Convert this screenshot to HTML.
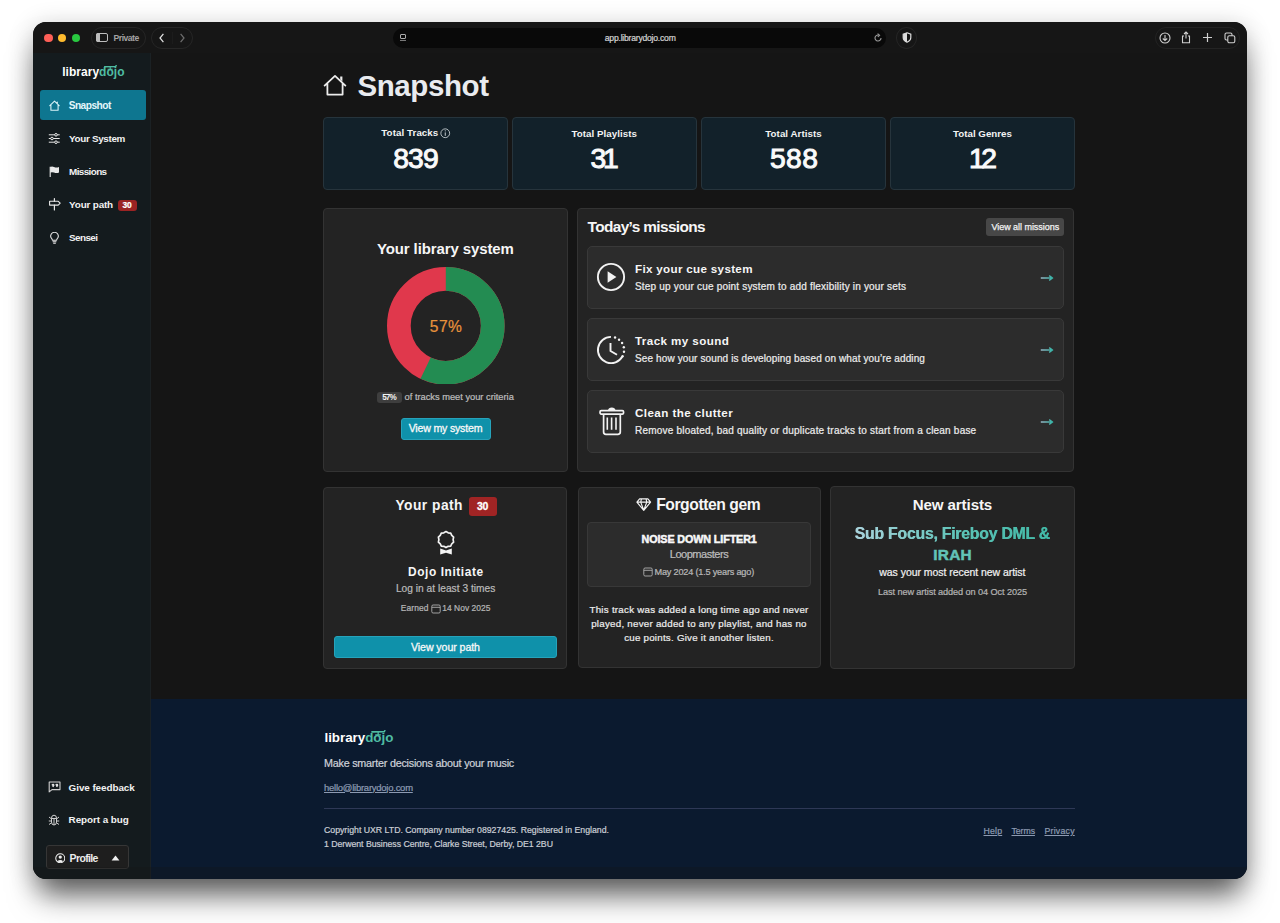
<!DOCTYPE html>
<html><head><meta charset="utf-8">
<style>
*{box-sizing:border-box;margin:0;padding:0}
html,body{width:1280px;height:923px;overflow:hidden;background:#fff;font-family:"Liberation Sans",sans-serif;color:#fff}
.abs{position:absolute}
#win{position:absolute;left:33px;top:22px;width:1214px;height:856.6px;border-radius:13px;background:#151515;overflow:hidden;box-shadow:0 22px 30px -6px rgba(0,0,0,.6),0 4px 26px rgba(0,0,0,.2)}
#pg{position:absolute;left:-33px;top:-22px;width:1280px;height:923px}
.t{position:absolute;white-space:nowrap;line-height:1}
</style></head><body>
<div id="win"><div id="pg">
<div class="abs" style="left:33.00px;top:22.00px;width:1214.00px;height:30.50px;background:#161616"></div>
<div class="abs" style="left:44.30px;top:33.60px;width:8.60px;height:8.60px;border-radius:50%;background:#fe5f57"></div>
<div class="abs" style="left:57.90px;top:33.60px;width:8.60px;height:8.60px;border-radius:50%;background:#febb2e"></div>
<div class="abs" style="left:71.60px;top:33.60px;width:8.60px;height:8.60px;border-radius:50%;background:#29c840"></div>
<div class="abs" style="left:90.50px;top:27.00px;width:55.00px;height:21.70px;border-radius:11px;border:1px solid #262626"></div>
<div class="abs" style="left:96.00px;top:33.20px;width:11.50px;height:9.00px;border:1.2px solid #bdbdbd;border-radius:2px"></div>
<div class="abs" style="left:96.00px;top:33.20px;width:4.20px;height:9.00px;background:#bdbdbd;border-radius:2px 0 0 2px"></div>
<div class="t" style="left:113.60px;top:34.04px;font-size:8.58px;letter-spacing:-0.500px;font-weight:700;color:#a3a3a3;">Private</div>
<div class="abs" style="left:150.50px;top:27.00px;width:42.50px;height:21.70px;border-radius:11px;border:1px solid #262626"></div>
<div class="abs" style="left:172.20px;top:32.00px;width:1.00px;height:12.00px;background:#1c1c1c"></div>
<svg class="abs" style="left:156.50px;top:33.00px;" width="10" height="10" viewBox="0 0 10 10"><path d="M6.4 .9 L3 5 L6.4 9.1" stroke="#e0e0e0" stroke-width="1.25" fill="none"/></svg>
<svg class="abs" style="left:177.00px;top:33.00px;" width="10" height="10" viewBox="0 0 10 10"><path d="M3.6 .9 L7 5 L3.6 9.1" stroke="#6d6d6d" stroke-width="1.25" fill="none"/></svg>
<div class="abs" style="left:392.50px;top:28.00px;width:493.50px;height:20.00px;border-radius:10px;background:#090909"></div>
<div class="abs" style="left:399.50px;top:34.00px;width:6.50px;height:4.50px;border:1px solid #aaa;border-radius:1px"></div>
<div class="abs" style="left:399.50px;top:40.00px;width:6.50px;height:1.00px;background:#777"></div>
<div class="t" style="left:604.80px;top:33.62px;font-size:8.60px;letter-spacing:-0.220px;font-weight:400;color:#d2d2d2;-webkit-text-stroke:0.22px #d2d2d2;">app.librarydojo.com</div>
<svg class="abs" style="left:873.00px;top:32.50px;" width="10" height="10" viewBox="0 0 10 10"><path d="M8 5 A3 3 0 1 1 5.6 2.1" stroke="#9a9a9a" stroke-width="1.1" fill="none"/><path d="M4.6 0.6 L6.6 2.2 L4.8 3.9" stroke="#9a9a9a" stroke-width="1.1" fill="none"/></svg>
<div class="abs" style="left:896.00px;top:27.00px;width:21.00px;height:21.50px;border-radius:50%;border:1px solid #252525"></div>
<svg class="abs" style="left:901.50px;top:32.00px;" width="10" height="11" viewBox="0 0 10 11"><path d="M5 .8 L8.8 2.2 L8.8 5.5 Q8.8 8.6 5 10.2 Q1.2 8.6 1.2 5.5 L1.2 2.2 Z" stroke="#ddd" stroke-width="1.2" fill="none"/><path d="M5 .8 L5 10.2 Q1.2 8.6 1.2 5.5 L1.2 2.2 Z" fill="#ddd"/></svg>
<div class="abs" style="left:1155.00px;top:27.00px;width:85.00px;height:21.70px;border-radius:11px;border:1px solid #232323"></div>
<svg class="abs" style="left:1159.00px;top:31.50px;" width="12" height="12" viewBox="0 0 12 12"><circle cx="6" cy="6" r="5" stroke="#cfcfcf" stroke-width="1.1" fill="none"/><path d="M6 3 V8.5 M3.8 6.5 L6 8.6 L8.2 6.5" stroke="#cfcfcf" stroke-width="1.1" fill="none"/></svg>
<svg class="abs" style="left:1180.00px;top:30.50px;" width="12" height="13" viewBox="0 0 12 13"><path d="M4 5 H2.5 V11.8 H9.5 V5 H8 M6 1 V7.5 M4 3 L6 1 L8 3" stroke="#cfcfcf" stroke-width="1.1" fill="none"/></svg>
<svg class="abs" style="left:1202.00px;top:32.00px;" width="11" height="11" viewBox="0 0 11 11"><path d="M5.5 1 V10 M1 5.5 H10" stroke="#cfcfcf" stroke-width="1.2" fill="none"/></svg>
<svg class="abs" style="left:1224.00px;top:31.50px;" width="12" height="12" viewBox="0 0 12 12"><rect x="1" y="1" width="7" height="7" rx="1.5" stroke="#cfcfcf" stroke-width="1.1" fill="none"/><rect x="3.8" y="3.8" width="7" height="7" rx="1.5" stroke="#cfcfcf" stroke-width="1.1" fill="#161616"/></svg>
<div class="abs" style="left:33.00px;top:52.50px;width:118.00px;height:826.50px;background:#141b1e;border-right:1px solid #1b2124"></div>
<div class="t" style="left:62.20px;top:66.34px;font-size:12.00px;letter-spacing:0.030px;font-weight:700;color:#fff">library<span style="color:#4fbda3">dojo</span></div>
<svg class="abs" style="left:102.12px;top:65.36px" width="16.00" height="6.00" viewBox="0 0 16 6"><path d="M2.6 1.7 L13.6 1.5 L14.2 .6" stroke="#4fbda3" stroke-width="1.4" fill="none" stroke-linecap="round"/><path d="M5.6 4.3 H10.6 M8.2 1.6 V4.4" stroke="#4fbda3" stroke-width="1.1" fill="none"/></svg>
<div class="abs" style="left:40.20px;top:90.00px;width:106.30px;height:30.00px;background:#0e7690;border-radius:3px"></div>
<div class="t" style="left:68.70px;top:101.19px;font-size:10.17px;letter-spacing:-0.522px;font-weight:700;color:#e3f6fa;">Snapshot</div>
<div class="t" style="left:69.10px;top:133.53px;font-size:9.88px;letter-spacing:-0.339px;font-weight:700;color:#f2f2f2;">Your System</div>
<div class="t" style="left:69.10px;top:166.73px;font-size:9.88px;letter-spacing:-0.613px;font-weight:700;color:#f2f2f2;">Missions</div>
<div class="t" style="left:69.10px;top:199.53px;font-size:9.88px;letter-spacing:-0.161px;font-weight:700;color:#f2f2f2;">Your path</div>
<div class="abs" style="left:117.50px;top:199.50px;width:19.50px;height:11.50px;background:#9b2323;border-radius:3px"></div>
<div class="t" style="left:122.61px;top:200.86px;font-size:8.43px;letter-spacing:-0.200px;font-weight:700;color:#fff;-webkit-text-stroke:.2px #fff;">30</div>
<div class="t" style="left:69.10px;top:232.53px;font-size:9.88px;letter-spacing:-0.593px;font-weight:700;color:#f2f2f2;">Sensei</div>
<svg class="abs" style="left:48.50px;top:99.50px;" width="11" height="11" viewBox="0 0 11 11"><path d="M.8 5.6 L5.5 1.2 L10.2 5.6 M1.9 4.6 V10.2 H9.1 V4.6 M8.3 2 V3.6" stroke="#d9f3f8" stroke-width="1.1" fill="none" stroke-linejoin="round" stroke-linecap="round"/></svg>
<svg class="abs" style="left:48.00px;top:132.80px;" width="12.5" height="11" viewBox="0 0 12.5 11"><path d="M.8 1.8 H11.7 M.8 5.5 H11.7 M.8 9.2 H11.7" stroke="#e8e8e8" stroke-width="1" fill="none"/><circle cx="8" cy="1.8" r="1.3" fill="#141b1e" stroke="#e8e8e8" stroke-width="1"/><circle cx="4" cy="5.5" r="1.3" fill="#141b1e" stroke="#e8e8e8" stroke-width="1"/><circle cx="8" cy="9.2" r="1.3" fill="#141b1e" stroke="#e8e8e8" stroke-width="1"/></svg>
<svg class="abs" style="left:49.00px;top:165.50px;" width="11" height="11.5" viewBox="0 0 11 11.5"><path d="M1.2 .8 V11.2" stroke="#e8e8e8" stroke-width="1.1"/><path d="M1.2 1 Q3 .2 5 1 Q7.5 2 10 1 V6.6 Q7.5 7.6 5 6.6 Q3 5.8 1.2 6.6 Z" fill="#e8e8e8"/></svg>
<svg class="abs" style="left:48.00px;top:198.00px;" width="13" height="12.5" viewBox="0 0 13 12.5"><path d="M6.4 .6 V3.2 M6.4 7.2 V12" stroke="#e8e8e8" stroke-width="1.2" stroke-linecap="round"/><path d="M1.6 3.3 H10.2 L12.2 5.2 L10.2 7.1 H1.6 Z" stroke="#e8e8e8" stroke-width="1.1" fill="none" stroke-linejoin="round"/></svg>
<svg class="abs" style="left:49.00px;top:231.50px;" width="11" height="12" viewBox="0 0 11 12"><path d="M3.4 8.2 Q3.2 6.8 2 5.6 A3.8 3.8 0 1 1 9 5.6 Q7.8 6.8 7.6 8.2 Z" stroke="#e8e8e8" stroke-width="1.1" fill="none" stroke-linejoin="round"/><path d="M3.6 9.8 H7.4 M4.2 11.2 H6.8" stroke="#e8e8e8" stroke-width="1.1"/></svg>
<div class="t" style="left:68.60px;top:782.53px;font-size:9.88px;letter-spacing:-0.070px;font-weight:700;color:#f2f2f2;">Give feedback</div>
<div class="t" style="left:68.60px;top:815.23px;font-size:9.88px;letter-spacing:-0.068px;font-weight:700;color:#f2f2f2;">Report a bug</div>
<svg class="abs" style="left:47.50px;top:780.80px;" width="13" height="12" viewBox="0 0 13 12"><path d="M1.2 1 H12 V8.6 H4 L1.2 10.9 Z" stroke="#cfcfcf" stroke-width="1.1" fill="none" stroke-linejoin="round"/><path d="M4.1 4.2 a.9 .9 0 1 1 1.5 .6 L4.9 6 M7.9 4.2 a.9 .9 0 1 1 1.5 .6 L8.7 6" stroke="#e8e8e8" stroke-width="1.1" fill="#e8e8e8"/></svg>
<svg class="abs" style="left:48.30px;top:814.00px;" width="12" height="12" viewBox="0 0 12 12"><path d="M3.5 4.2 Q3.5 1.2 6 1.2 Q8.5 1.2 8.5 4.2 V8 Q8.5 11 6 11 Q3.5 11 3.5 8 Z M3.5 4.5 H8.5 M6 4.5 V11 M1 3 L3.5 5 M11 3 L8.5 5 M.8 7 H3.5 M11.2 7 H8.5 M1 10.5 L3.5 8.8 M11 10.5 L8.5 8.8" stroke="#cfcfcf" stroke-width="1" fill="none"/></svg>
<div class="abs" style="left:46.20px;top:845.30px;width:83.20px;height:24.20px;background:#1e1e1e;border:1px solid #363636;border-radius:3px"></div>
<svg class="abs" style="left:54.60px;top:852.60px;" width="10.5" height="10.5" viewBox="0 0 10.5 10.5"><circle cx="5.25" cy="5.25" r="4.5" stroke="#eee" stroke-width="1.05" fill="none"/><circle cx="5.25" cy="4.1" r="1.65" fill="#eee"/><path d="M2.3 8.3 Q5.25 5.5 8.2 8.3 Q5.25 10.4 2.3 8.3 Z" fill="#eee"/></svg>
<div class="t" style="left:69.60px;top:853.54px;font-size:10.47px;letter-spacing:-0.628px;font-weight:700;color:#ececec;">Profile</div>
<svg class="abs" style="left:111.00px;top:855.00px;" width="9" height="6" viewBox="0 0 9 6"><path d="M.6 5.4 L4.5 .6 L8.4 5.4 Z" fill="#f0f0f0"/></svg>
<svg class="abs" style="left:323.00px;top:74.00px;" width="24" height="22" viewBox="0 0 24 22"><path d="M1.6 11.6 L12 1.9 L22.4 11.6 M4.4 9.2 V20.6 H19.6 V9.2" stroke="#ececec" stroke-width="1.8" fill="none" stroke-linejoin="round" stroke-linecap="round"/><path d="M17.2 2.4 H19.4 V7.6 L17.2 5.6 Z" fill="#ececec"/></svg>
<div class="t" style="left:357.50px;top:70.52px;font-size:29.51px;letter-spacing:-0.418px;font-weight:700;color:#e9ebef;">Snapshot</div>
<div class="abs" style="left:323.00px;top:117.00px;width:185.00px;height:72.50px;background:#12212a;border:1px solid #26343c;border-radius:4px"></div>
<div class="t" style="left:381.30px;top:127.56px;font-size:9.74px;letter-spacing:0.081px;font-weight:700;color:#f4f4f4;">Total Tracks</div>
<svg class="abs" style="left:440.20px;top:128.20px;" width="10.5" height="10.5" viewBox="0 0 11 11"><circle cx="5.5" cy="5.5" r="4.6" stroke="#cfd6da" stroke-width=".9" fill="none"/><path d="M5.5 4.6 V8.2" stroke="#cfd6da" stroke-width="1"/><circle cx="5.5" cy="3" r=".6" fill="#cfd6da"/></svg>
<div class="t" style="left:393.20px;top:143.69px;font-size:28.25px;letter-spacing:-0.859px;font-weight:400;color:#fafafa;-webkit-text-stroke:1px #fafafa;">839</div>
<div class="abs" style="left:512.00px;top:117.00px;width:184.50px;height:72.50px;background:#12212a;border:1px solid #26343c;border-radius:4px"></div>
<div class="t" style="left:571.45px;top:129.06px;font-size:9.74px;letter-spacing:0.060px;font-weight:700;color:#f4f4f4;">Total Playlists</div>
<div class="t" style="left:590.60px;top:143.69px;font-size:28.25px;letter-spacing:-3.312px;font-weight:400;color:#fafafa;-webkit-text-stroke:1px #fafafa;">31</div>
<div class="abs" style="left:701.00px;top:117.00px;width:185.00px;height:72.50px;background:#12212a;border:1px solid #26343c;border-radius:4px"></div>
<div class="t" style="left:765.30px;top:129.06px;font-size:9.74px;letter-spacing:0.056px;font-weight:700;color:#f4f4f4;">Total Artists</div>
<div class="t" style="left:769.95px;top:143.69px;font-size:28.25px;letter-spacing:0.391px;font-weight:400;color:#fafafa;-webkit-text-stroke:1px #fafafa;">588</div>
<div class="abs" style="left:890.00px;top:117.00px;width:185.00px;height:72.50px;background:#12212a;border:1px solid #26343c;border-radius:4px"></div>
<div class="t" style="left:953.00px;top:129.06px;font-size:9.74px;letter-spacing:0.017px;font-weight:700;color:#f4f4f4;">Total Genres</div>
<div class="t" style="left:968.95px;top:143.69px;font-size:28.25px;letter-spacing:-3.512px;font-weight:400;color:#fafafa;-webkit-text-stroke:1px #fafafa;">12</div>
<div class="abs" style="left:323.00px;top:208.00px;width:244.50px;height:264.00px;background:#232323;border:1px solid #333;border-radius:4px"></div>
<div class="t" style="left:376.90px;top:242.13px;font-size:14.97px;letter-spacing:-0.093px;font-weight:700;color:#f6f6f6;">Your library system</div>
<svg class="abs" style="left:387.30px;top:266.80px" width="117.60" height="117.60" viewBox="-58.80 -58.80 117.60 117.60"><circle r="46.950" fill="none" stroke="#e0384c" stroke-width="23.70"/><circle r="46.950" fill="none" stroke="#238c52" stroke-width="23.70" stroke-dasharray="168.147 294.996" transform="rotate(-90)"/></svg>
<div class="t" style="left:429.85px;top:319.39px;font-size:15.60px;letter-spacing:0.442px;font-weight:400;color:#e8923c;-webkit-text-stroke:0.22px #e8923c;">57%</div>
<div class="abs" style="left:377.30px;top:391.80px;width:24.30px;height:11.70px;background:#3e3e3e;border-radius:3px"></div>
<div class="t" style="left:382.15px;top:393.51px;font-size:8.14px;letter-spacing:-0.894px;font-weight:700;color:#f4f4f4;">57%</div>
<div class="t" style="left:404.60px;top:393.33px;font-size:9.30px;letter-spacing:-0.011px;font-weight:400;color:#bdbdbd;-webkit-text-stroke:0.22px #bdbdbd;">of tracks meet your criteria</div>
<div class="abs" style="left:401.00px;top:417.80px;width:89.50px;height:22.00px;background:#0f91aa;border:1px solid #26a3bb;border-radius:3px"></div>
<div class="t" style="left:408.70px;top:423.12px;font-size:10.61px;letter-spacing:-0.204px;font-weight:400;color:#f8f8f8;-webkit-text-stroke:.3px #f8f8f8;">View my system</div>
<div class="abs" style="left:577.30px;top:208.30px;width:497.20px;height:263.70px;background:#232323;border:1px solid #333;border-radius:4px"></div>
<div class="t" style="left:587.50px;top:218.86px;font-size:15.41px;letter-spacing:-0.631px;font-weight:700;color:#f6f6f6;">Today’s missions</div>
<div class="abs" style="left:986.20px;top:218.40px;width:77.80px;height:18.00px;background:#474747;border-radius:3px"></div>
<div class="t" style="left:991.40px;top:222.57px;font-size:9.01px;letter-spacing:-0.034px;font-weight:400;color:#f2f2f2;-webkit-text-stroke:.25px #f2f2f2;">View all missions</div>
<div class="abs" style="left:587.30px;top:246.00px;width:477.00px;height:63.00px;background:#2c2c2c;border:1px solid #393939;border-radius:5px"></div>
<div class="t" style="left:635.00px;top:263.16px;font-size:11.63px;letter-spacing:0.317px;font-weight:700;color:#f6f6f6;">Fix your cue system</div>
<div class="t" style="left:635.00px;top:281.61px;font-size:10.03px;letter-spacing:0.184px;font-weight:400;color:#ececec;-webkit-text-stroke:0.22px #ececec;">Step up your cue point system to add flexibility in your sets</div>
<svg class="abs" style="left:1040.00px;top:273.50px;" width="14" height="8" viewBox="0 0 14 8"><defs><linearGradient id="ag0" x1="0" x2="1"><stop offset="0" stop-color="#9ab8c8"/><stop offset="1" stop-color="#34b3a5"/></linearGradient></defs><path d="M.8 4 H12 M9.2 1.6 L12.6 4 L9.2 6.4" stroke="url(#ag0)" stroke-width="1.4" fill="none" stroke-linejoin="round"/></svg>
<div class="abs" style="left:587.30px;top:318.00px;width:477.00px;height:63.00px;background:#2c2c2c;border:1px solid #393939;border-radius:5px"></div>
<div class="t" style="left:635.00px;top:335.16px;font-size:11.63px;letter-spacing:0.405px;font-weight:700;color:#f6f6f6;">Track my sound</div>
<div class="t" style="left:635.00px;top:353.61px;font-size:10.03px;letter-spacing:0.110px;font-weight:400;color:#ececec;-webkit-text-stroke:0.22px #ececec;">See how your sound is developing based on what you’re adding</div>
<svg class="abs" style="left:1040.00px;top:345.50px;" width="14" height="8" viewBox="0 0 14 8"><defs><linearGradient id="ag1" x1="0" x2="1"><stop offset="0" stop-color="#9ab8c8"/><stop offset="1" stop-color="#34b3a5"/></linearGradient></defs><path d="M.8 4 H12 M9.2 1.6 L12.6 4 L9.2 6.4" stroke="url(#ag1)" stroke-width="1.4" fill="none" stroke-linejoin="round"/></svg>
<div class="abs" style="left:587.30px;top:390.00px;width:477.00px;height:63.00px;background:#2c2c2c;border:1px solid #393939;border-radius:5px"></div>
<div class="t" style="left:635.00px;top:407.16px;font-size:11.63px;letter-spacing:0.418px;font-weight:700;color:#f6f6f6;">Clean the clutter</div>
<div class="t" style="left:635.00px;top:425.61px;font-size:10.03px;letter-spacing:0.197px;font-weight:400;color:#ececec;-webkit-text-stroke:0.22px #ececec;">Remove bloated, bad quality or duplicate tracks to start from a clean base</div>
<svg class="abs" style="left:1040.00px;top:417.50px;" width="14" height="8" viewBox="0 0 14 8"><defs><linearGradient id="ag2" x1="0" x2="1"><stop offset="0" stop-color="#9ab8c8"/><stop offset="1" stop-color="#34b3a5"/></linearGradient></defs><path d="M.8 4 H12 M9.2 1.6 L12.6 4 L9.2 6.4" stroke="url(#ag2)" stroke-width="1.4" fill="none" stroke-linejoin="round"/></svg>
<svg class="abs" style="left:596.00px;top:262.00px;" width="30" height="30" viewBox="0 0 30 30"><circle cx="15" cy="15" r="13.1" stroke="#f2f2f2" stroke-width="1.9" fill="none"/><path d="M11.6 9.3 L20.4 15 L11.6 20.7 Z" fill="#f2f2f2"/></svg>
<svg class="abs" style="left:596.00px;top:334.50px;" width="30" height="30" viewBox="0 0 30 30"><path d="M15 1.9 A13.1 13.1 0 1 0 26.4 21.5" stroke="#f2f2f2" stroke-width="1.9" fill="none"/><path d="M14.5 8 V16 L21 19.8" stroke="#f2f2f2" stroke-width="1.9" fill="none" stroke-linejoin="round"/><circle cx="19.05" cy="2.54" r="1.2" fill="#f2f2f2"/><circle cx="23.07" cy="4.68" r="1.2" fill="#f2f2f2"/><circle cx="26.11" cy="8.06" r="1.2" fill="#f2f2f2"/><circle cx="27.81" cy="12.28" r="1.2" fill="#f2f2f2"/><circle cx="27.97" cy="16.82" r="1.2" fill="#f2f2f2"/><circle cx="26.57" cy="21.15" r="1.2" fill="#f2f2f2"/></svg>
<svg class="abs" style="left:598.50px;top:405.50px;" width="26" height="30" viewBox="0 0 26 30"><path d="M2.3 4.6 H23.3 Q24.6 4.6 24.6 6 Q24.6 8.2 23.3 8.2 H2.3 Q1 8.2 1 6 Q1 4.6 2.3 4.6 Z" stroke="#f2f2f2" stroke-width="1.7" fill="none"/><path d="M9 4.4 Q9.5 1.6 12.8 1.6 Q16 1.6 16.5 4.4" fill="#f2f2f2"/><path d="M4.6 8.4 V26 Q4.6 28.3 6.9 28.3 H18.8 Q21.3 28.3 21.3 26 V8.4" stroke="#f2f2f2" stroke-width="1.7" fill="none"/><path d="M8.3 11.5 V23.8 M12.6 11.5 V23.8 M17 11.5 V23.8" stroke="#f2f2f2" stroke-width="1.6"/></svg>
<div class="abs" style="left:323.40px;top:486.50px;width:243.60px;height:182.10px;background:#232323;border:1px solid #333;border-radius:4px"></div>
<div class="t" style="left:395.40px;top:498.61px;font-size:13.81px;letter-spacing:0.474px;font-weight:700;color:#f6f6f6;">Your path</div>
<div class="abs" style="left:468.80px;top:497.40px;width:27.90px;height:18.30px;background:#a02424;border-radius:3px"></div>
<div class="t" style="left:477.03px;top:501.74px;font-size:10.47px;letter-spacing:-0.300px;font-weight:700;color:#fff;-webkit-text-stroke:.3px #fff;">30</div>
<svg class="abs" style="left:435.60px;top:529.70px;" width="20" height="25" viewBox="0 0 20 25"><path d="M10.00 1.60 L12.19 2.85 L14.70 3.13 L15.74 5.43 L17.61 7.13 L17.10 9.60 L17.61 12.07 L15.74 13.77 L14.70 16.07 L12.19 16.35 L10.00 17.60 L7.81 16.35 L5.30 16.07 L4.26 13.77 L2.39 12.07 L2.90 9.60 L2.39 7.13 L4.26 5.43 L5.30 3.13 L7.81 2.85 Z" stroke="#f4f4f4" stroke-width="1.7" fill="none" stroke-linejoin="round"/><path d="M4.2 18.6 L10 20.6 L15.8 18.6 V24.4 L10 22.8 L4.2 24.4 Z" fill="#f4f4f4"/></svg>
<div class="t" style="left:408.05px;top:566.91px;font-size:11.92px;letter-spacing:0.575px;font-weight:700;color:#f6f6f6;">Dojo Initiate</div>
<div class="t" style="left:395.95px;top:584.39px;font-size:10.17px;letter-spacing:0.024px;font-weight:400;color:#bababa;-webkit-text-stroke:0.22px #bababa;">Log in at least 3 times</div>
<div class="t" style="left:400.70px;top:603.76px;font-size:8.43px;letter-spacing:0.142px;font-weight:400;color:#b5b5b5;-webkit-text-stroke:0.22px #b5b5b5;">Earned</div>
<svg class="abs" style="left:430.50px;top:603.60px;" width="10" height="10" viewBox="0 0 10 10"><rect x=".8" y="1" width="8.4" height="8" rx="1.3" stroke="#b0b0b0" stroke-width=".9" fill="none"/><path d="M.8 3.3 H9.2" stroke="#b0b0b0" stroke-width=".9"/></svg>
<div class="t" style="left:442.20px;top:603.76px;font-size:8.43px;letter-spacing:0.059px;font-weight:400;color:#b5b5b5;-webkit-text-stroke:0.22px #b5b5b5;">14 Nov 2025</div>
<div class="abs" style="left:333.60px;top:636.00px;width:223.80px;height:22.30px;background:#0f91aa;border:1px solid #26a3bb;border-radius:3px"></div>
<div class="t" style="left:411.00px;top:642.32px;font-size:10.61px;letter-spacing:-0.077px;font-weight:400;color:#f8f8f8;-webkit-text-stroke:.3px #f8f8f8;">View your path</div>
<div class="abs" style="left:577.60px;top:486.50px;width:243.10px;height:181.60px;background:#232323;border:1px solid #333;border-radius:4px"></div>
<svg class="abs" style="left:636.00px;top:497.80px;" width="15.5" height="13.5" viewBox="0 0 15.5 13.5"><path d="M3.6 .9 H11.9 L14.6 4.1 L7.75 12.4 L.9 4.1 Z M.9 4.1 H14.6 M5.4 1.1 L4.7 4.1 L7.75 12.2 L10.8 4.1 L10.1 1.1" stroke="#f4f4f4" stroke-width="1.15" fill="none" stroke-linejoin="round"/></svg>
<div class="t" style="left:656.20px;top:497.01px;font-size:15.70px;letter-spacing:-0.449px;font-weight:700;color:#f6f6f6;">Forgotten gem</div>
<div class="abs" style="left:587.30px;top:522.30px;width:223.70px;height:65.00px;background:#2c2c2c;border:1px solid #383838;border-radius:4px"></div>
<div class="t" style="left:641.55px;top:534.20px;font-size:10.76px;letter-spacing:-0.107px;font-weight:700;color:#f8f8f8;-webkit-text-stroke:.5px #f8f8f8;">NOISE DOWN LIFTER1</div>
<div class="t" style="left:669.75px;top:548.65px;font-size:11.05px;letter-spacing:-0.496px;font-weight:400;color:#bdbdbd;-webkit-text-stroke:0.22px #bdbdbd;">Loopmasters</div>
<svg class="abs" style="left:643.00px;top:567.00px;" width="10" height="10" viewBox="0 0 10 10"><rect x=".8" y="1" width="8.4" height="8" rx="1.3" stroke="#b0b0b0" stroke-width=".9" fill="none"/><path d="M.8 3.3 H9.2" stroke="#b0b0b0" stroke-width=".9"/></svg>
<div class="t" style="left:654.50px;top:567.55px;font-size:9.16px;letter-spacing:-0.202px;font-weight:400;color:#b8b8b8;-webkit-text-stroke:0.22px #b8b8b8;">May 2024 (1.5 years ago)</div>
<div class="t" style="left:589.50px;top:605.06px;font-size:9.74px;letter-spacing:0.257px;font-weight:400;color:#ececec;-webkit-text-stroke:0.22px #ececec;">This track was added a long time ago and never</div>
<div class="t" style="left:591.20px;top:619.06px;font-size:9.74px;letter-spacing:0.257px;font-weight:400;color:#ececec;-webkit-text-stroke:0.22px #ececec;">played, never added to any playlist, and has no</div>
<div class="t" style="left:624.20px;top:632.56px;font-size:9.74px;letter-spacing:0.242px;font-weight:400;color:#ececec;-webkit-text-stroke:0.22px #ececec;">cue points. Give it another listen.</div>
<div class="abs" style="left:830.40px;top:486.00px;width:244.20px;height:182.50px;background:#232323;border:1px solid #333;border-radius:4px"></div>
<div class="t" style="left:912.70px;top:497.10px;font-size:15.12px;letter-spacing:-0.105px;font-weight:700;color:#f6f6f6;">New artists</div>
<div class="t" style="left:854.50px;top:526.19px;font-size:15.84px;letter-spacing:-0.243px;font-weight:700;color:#fff;background:linear-gradient(90deg,#a9d3dc 0%,#5cc2b6 55%,#41b9a6 100%);-webkit-background-clip:text;background-clip:text;color:transparent;">Sub Focus, Fireboy DML &amp;</div>
<div class="t" style="left:855.00px;top:526.19px;font-size:15.84px;letter-spacing:-0.243px;font-weight:700;color:#fff;background:linear-gradient(90deg,#a9d3dc 0%,#5cc2b6 55%,#41b9a6 100%);-webkit-background-clip:text;background-clip:text;color:transparent;">Sub Focus, Fireboy DML &amp;</div>
<div class="t" style="left:933.30px;top:547.36px;font-size:15.41px;letter-spacing:0.248px;font-weight:700;color:#fff;color:#62c3b7;-webkit-text-stroke:.5px #62c3b7;">IRAH</div>
<div class="t" style="left:879.32px;top:567.54px;font-size:10.47px;letter-spacing:-0.036px;font-weight:400;color:#f0f0f0;-webkit-text-stroke:0.22px #f0f0f0;">was your most recent new artist</div>
<div class="t" style="left:878.00px;top:588.05px;font-size:9.16px;letter-spacing:-0.092px;font-weight:400;color:#b3b3b3;-webkit-text-stroke:0.22px #b3b3b3;">Last new artist added on 04 Oct 2025</div>
<div class="abs" style="left:151.00px;top:699.00px;width:1096.00px;height:180.00px;background:#0b1a2f"></div>
<div class="t" style="left:324.50px;top:730.76px;font-size:13.40px;letter-spacing:-0.034px;font-weight:700;color:#fff">library<span style="color:#4fbda3">dojo</span></div>
<svg class="abs" style="left:368.54px;top:729.66px" width="17.87" height="6.70" viewBox="0 0 16 6"><path d="M2.6 1.7 L13.6 1.5 L14.2 .6" stroke="#4fbda3" stroke-width="1.4" fill="none" stroke-linecap="round"/><path d="M5.6 4.3 H10.6 M8.2 1.6 V4.4" stroke="#4fbda3" stroke-width="1.1" fill="none"/></svg>
<div class="t" style="left:324.00px;top:757.70px;font-size:10.76px;letter-spacing:-0.215px;font-weight:400;color:#cdd1d8;-webkit-text-stroke:0.22px #cdd1d8;">Make smarter decisions about your music</div>
<div class="t" style="left:324.00px;top:782.50px;font-size:9.45px;letter-spacing:-0.225px;font-weight:400;color:#8d9ab2;text-decoration:underline;text-underline-offset:1px;-webkit-text-stroke:0.22px #8d9ab2;">hello@librarydojo.com</div>
<div class="abs" style="left:324.00px;top:807.80px;width:750.50px;height:1.00px;background:#2e3856"></div>
<div class="t" style="left:324.00px;top:826.12px;font-size:8.72px;letter-spacing:0.002px;font-weight:400;color:#c9cdd4;-webkit-text-stroke:0.22px #c9cdd4;">Copyright UXR LTD. Company number 08927425. Registered in England.</div>
<div class="t" style="left:324.00px;top:840.22px;font-size:8.72px;letter-spacing:-0.028px;font-weight:400;color:#c9cdd4;-webkit-text-stroke:0.22px #c9cdd4;">1 Derwent Business Centre, Clarke Street, Derby, DE1 2BU</div>
<div class="t" style="left:983.50px;top:826.82px;font-size:8.72px;letter-spacing:0.187px;font-weight:400;color:#8d9ab2;text-decoration:underline;text-underline-offset:1px;-webkit-text-stroke:0.22px #8d9ab2;">Help</div>
<div class="t" style="left:1011.50px;top:826.82px;font-size:8.72px;letter-spacing:-0.060px;font-weight:400;color:#8d9ab2;text-decoration:underline;text-underline-offset:1px;-webkit-text-stroke:0.22px #8d9ab2;">Terms</div>
<div class="t" style="left:1044.50px;top:826.82px;font-size:8.72px;letter-spacing:0.235px;font-weight:400;color:#8d9ab2;text-decoration:underline;text-underline-offset:1px;-webkit-text-stroke:0.22px #8d9ab2;">Privacy</div>
<div class="abs" style="left:33.00px;top:867.00px;width:1214.00px;height:12.00px;background:rgba(20,20,20,.28)"></div>
</div></div>
</body></html>
